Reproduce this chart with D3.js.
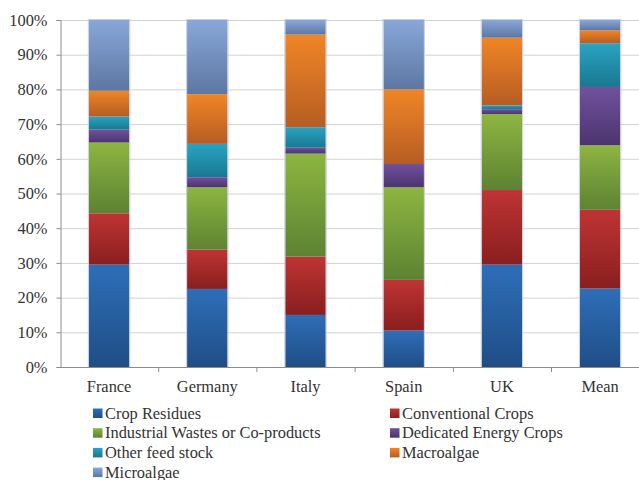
<!DOCTYPE html>
<html>
<head>
<meta charset="utf-8">
<script src="https://cdn.jsdelivr.net/npm/d3@7"></script>
<style>
  body { margin: 0; background: #fff; }
</style>
</head>
<body>
<div id="chart"></div>
<script>
    // data (percent of total)
    const countries = ["France", "Germany", "Italy", "Spain", "UK", "Mean"];
    const feedstocks = ["Crop Residues", "Conventional Crops", "Industrial Wastes or Co-products",
        "Dedicated Energy Crops", "Other feed stock", "Macroalgae", "Microalgae"];
    const cropResidues = [29.5, 22.5, 15.0, 10.5, 29.5, 22.6];
    const conventionalCrops = [14.8, 11.3, 16.8, 14.6, 21.5, 22.7];
    const industrialWastes = [20.4, 18.0, 29.7, 26.7, 21.9, 18.6];
    const dedicatedCrops = [3.7, 2.9, 1.7, 6.7, 1.4, 16.8];
    const otherFeedstock = [3.8, 9.6, 5.9, 0.0, 1.1, 12.6];
    const macroalgae = [7.4, 14.3, 26.7, 21.5, 19.5, 3.7];
    const microalgae = [20.4, 21.4, 4.2, 20.0, 5.1, 3.0];
    const yTicks = [0, 10, 20, 30, 40, 50, 60, 70, 80, 90, 100];

    // gradient colours, top then bottom
    const colours = [
        ["#2e6eb8", "#1f4e86"],
        ["#bf3434", "#8a1e1e"],
        ["#8cb641", "#5e8233"],
        ["#71519e", "#4b346e"],
        ["#2aa3c3", "#197890"],
        ["#f08526", "#b65d24"],
        ["#88a7d8", "#5d77a1"]
    ];

    const serif = "'Liberation Serif', 'Times New Roman', serif";
    const fontSize = 16.4;

    const seriesValues = [cropResidues, conventionalCrops, industrialWastes, dedicatedCrops,
        otherFeedstock, macroalgae, microalgae];
    const rows = countries.map((c, i) => {
        const row = { country: c };
        feedstocks.forEach((f, j) => { row[f] = seriesValues[j][i]; });
        return row;
    });

    const width = 639, height = 480;
    const plotLeft = 60, plotTop = 20, plotBottom = 367;

    const svg = d3.select("#chart").append("svg")
        .attr("width", width)
        .attr("height", height);

    const defs = svg.append("defs");
    colours.forEach((c, i) => {
        const g = defs.append("linearGradient")
            .attr("id", "grad" + i)
            .attr("x1", 0).attr("y1", 0).attr("x2", 0).attr("y2", 1);
        g.append("stop").attr("offset", "0%").attr("stop-color", c[0]);
        g.append("stop").attr("offset", "100%").attr("stop-color", c[1]);
    });

    const x = d3.scaleBand()
        .domain(countries)
        .range([plotLeft, plotLeft + 6 * 98.2])
        .paddingInner(0.588)
        .paddingOuter(0.294);

    const y = d3.scaleLinear()
        .domain([0, 100])
        .range([plotBottom, plotTop]);

    // gridlines
    svg.append("g")
        .selectAll("line")
        .data(yTicks.slice(1))
        .enter()
        .append("line")
        .attr("x1", plotLeft)
        .attr("x2", width)
        .attr("y1", d => y(d) + 0.5)
        .attr("y2", d => y(d) + 0.5)
        .attr("stroke", "#d2d2d2")
        .attr("stroke-width", 1);

    const stacked = d3.stack().keys(feedstocks)(rows);

    svg.append("g")
        .selectAll("g")
        .data(stacked)
        .enter()
        .append("g")
        .attr("fill", (d, i) => `url(#grad${i})`)
        .selectAll("rect")
        .data(d => d.filter(s => s[1] - s[0] > 0))
        .enter()
        .append("rect")
        .attr("x", d => x(d.data.country))
        .attr("y", d => y(d[1]))
        .attr("width", x.bandwidth())
        .attr("height", d => y(d[0]) - y(d[1]));

    // thin light edge around each bar
    svg.append("g")
        .selectAll("rect")
        .data(countries)
        .enter()
        .append("rect")
        .attr("x", d => x(d) - 0.5)
        .attr("y", y(100) - 0.5)
        .attr("width", x.bandwidth() + 1)
        .attr("height", y(0) - y(100) + 1)
        .attr("fill", "none")
        .attr("stroke", "#c9d0dc")
        .attr("stroke-width", 1);

    // y axis
    const yAxis = svg.append("g")
        .attr("transform", `translate(${plotLeft + 0.5},0)`)
        .call(d3.axisLeft(y).tickValues(yTicks).tickSize(4).tickFormat(d => d + "%"));
    yAxis.select(".domain").attr("stroke", "#8c8c8c");
    yAxis.selectAll(".tick line").attr("stroke", "#8c8c8c");
    yAxis.selectAll(".tick text")
        .attr("x", -13)
        .attr("font-size", fontSize)
        .attr("font-family", serif)
        .attr("fill", "#333");

    // x axis
    svg.append("line")
        .attr("x1", plotLeft)
        .attr("x2", width)
        .attr("y1", plotBottom + 0.5)
        .attr("y2", plotBottom + 0.5)
        .attr("stroke", "#8c8c8c");

    svg.append("g")
        .selectAll("line")
        .data(countries)
        .enter()
        .append("line")
        .attr("x1", d => x(d) + x.bandwidth() / 2 + x.step() / 2 + 0.5)
        .attr("x2", d => x(d) + x.bandwidth() / 2 + x.step() / 2 + 0.5)
        .attr("y1", plotBottom)
        .attr("y2", plotBottom + 5)
        .attr("stroke", "#8c8c8c");

    svg.append("g")
        .selectAll("text")
        .data(countries)
        .enter()
        .append("text")
        .attr("x", d => x(d) + x.bandwidth() / 2)
        .attr("y", 392)
        .attr("text-anchor", "middle")
        .attr("font-family", serif)
        .attr("font-size", fontSize)
        .attr("fill", "#333")
        .text(d => d);

    // legend, two columns
    const legend = svg.append("g")
        .selectAll("g")
        .data(feedstocks)
        .enter()
        .append("g")
        .attr("transform", (d, i) => `translate(${i % 2 === 0 ? 93 : 390},${413 + Math.floor(i / 2) * 19.7})`);

    legend.append("rect")
        .attr("x", 0)
        .attr("y", -4.5)
        .attr("width", 9.5)
        .attr("height", 9.5)
        .attr("fill", (d, i) => `url(#grad${i})`);

    legend.append("text")
        .attr("x", 12)
        .attr("y", 5.5)
        .attr("font-family", serif)
        .attr("font-size", fontSize)
        .attr("fill", "#333")
        .text(d => d);
</script>
</body>
</html>
